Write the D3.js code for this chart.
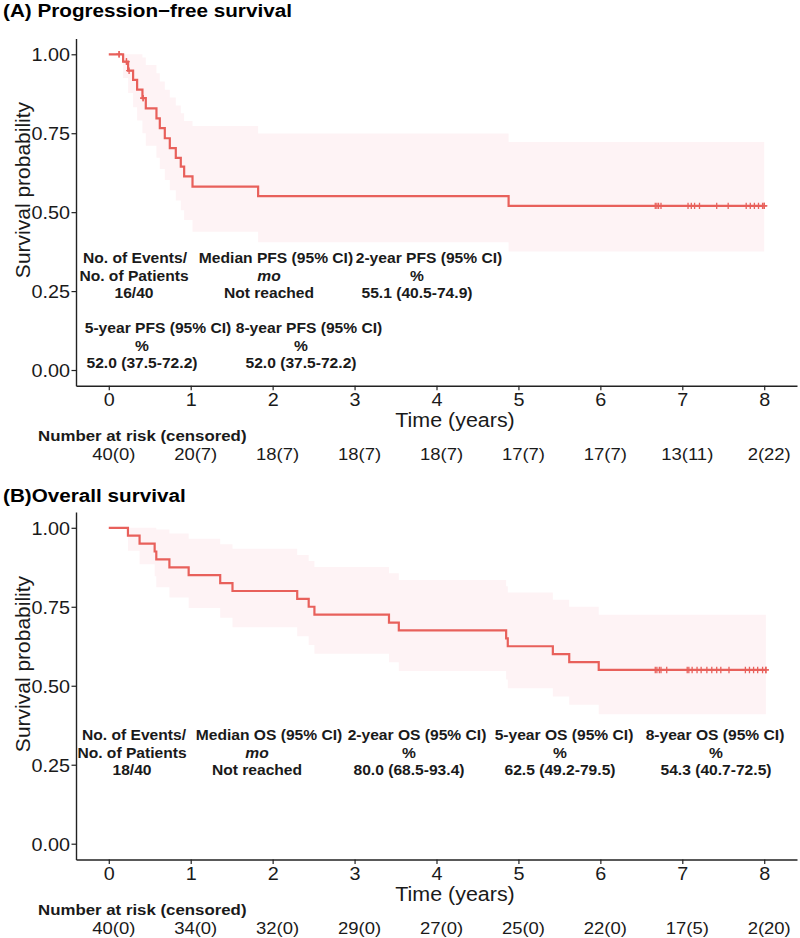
<!DOCTYPE html>
<html>
<head>
<meta charset="utf-8">
<script src="https://cdn.jsdelivr.net/npm/d3@7"></script>
<style>
  body { margin: 0; background: #fff; }
  svg { display: block; }
</style>
</head>
<body>
<svg id="chart" width="800" height="938"></svg>
<script>
// ---- data ----
const yearTicks = [0, 1, 2, 3, 4, 5, 6, 7, 8];
const survTicks = [0, 0.25, 0.5, 0.75, 1];

// progression-free survival: step times, estimate, 95% band
const pfsTime  = [0, 0.175, 0.236, 0.297, 0.346, 0.411, 0.452, 0.582, 0.623, 0.684, 0.745, 0.818, 0.879, 0.920, 1.022, 1.823, 4.880, 8.00];
const pfsSurv  = [1, 0.977, 0.948, 0.919, 0.888, 0.861, 0.829, 0.797, 0.766, 0.734, 0.703, 0.672, 0.644, 0.613, 0.581, 0.551, 0.520, 0.520];
const pfsLower = [1, 0.925, 0.877, 0.832, 0.790, 0.750, 0.710, 0.672, 0.637, 0.602, 0.569, 0.537, 0.506, 0.475, 0.438, 0.405, 0.375, 0.375];
const pfsUpper = [1, 1, 1, 1, 1, 0.990, 0.966, 0.940, 0.914, 0.888, 0.863, 0.838, 0.813, 0.789, 0.773, 0.749, 0.722, 0.722];
const pfsCensor = [0.126, 0.126, 0.216, 0.216, 0.248, 0.419, 0.419, 6.67, 6.69, 6.71, 6.74,
  7.07, 7.11, 7.15, 7.21, 7.42, 7.56, 7.78, 7.83, 7.88, 7.93, 7.98, 8.00, 8.00];
const pfsAtRisk   = [40, 20, 18, 18, 18, 17, 17, 13, 2];
const pfsCensored = [0, 7, 7, 7, 7, 7, 7, 11, 22];
const pfsNotes = [
  ["No. of Events/", "No. of Patients", "16/40"],
  ["Median PFS (95% CI)", "mo", "Not reached"],
  ["2-year PFS (95% CI)", "%", "55.1 (40.5-74.9)"],
  ["5-year PFS (95% CI)", "%", "52.0 (37.5-72.2)"],
  ["8-year PFS (95% CI)", "%", "52.0 (37.5-72.2)"]
];

// overall survival
const osTime  = [0, 0.234, 0.376, 0.56, 0.58, 0.74, 0.975, 1.36, 1.51, 2.30, 2.44, 2.51, 3.42, 3.54, 4.85, 4.87, 5.42, 5.62, 5.98, 8.02];
const osSurv  = [1, 0.975, 0.95, 0.925, 0.90, 0.875, 0.85, 0.825, 0.80, 0.775, 0.75, 0.725, 0.70, 0.675, 0.65, 0.625, 0.60, 0.575, 0.55, 0.55];
const osLower = [1, 0.927, 0.885, 0.847, 0.812, 0.779, 0.746, 0.715, 0.685, 0.657, 0.629, 0.601, 0.574, 0.547, 0.520, 0.492, 0.466, 0.440, 0.410, 0.410];
const osUpper = [1, 1, 1, 1, 0.995, 0.982, 0.965, 0.948, 0.934, 0.914, 0.895, 0.876, 0.856, 0.835, 0.815, 0.795, 0.772, 0.750, 0.725, 0.725];
const osCensor = [6.67, 6.69, 6.72, 6.74, 6.81, 7.06, 7.08, 7.12, 7.18, 7.23, 7.30, 7.36, 7.42,
  7.47, 7.57, 7.77, 7.82, 7.87, 7.92, 7.98, 8.02, 8.02];
const osAtRisk   = [40, 34, 32, 29, 27, 25, 22, 17, 2];
const osCensored = [0, 0, 0, 0, 0, 0, 0, 5, 20];
const osNotes = [
  ["No. of Events/", "No. of Patients", "18/40"],
  ["Median OS (95% CI)", "mo", "Not reached"],
  ["2-year OS (95% CI)", "%", "80.0 (68.5-93.4)"],
  ["5-year OS (95% CI)", "%", "62.5 (49.2-79.5)"],
  ["8-year OS (95% CI)", "%", "54.3 (40.7-72.5)"]
];

// ---- layout ----
const svg = d3.select("#chart");
const FONT = "'Liberation Sans', Arial, Helvetica, sans-serif";
const SX = 1.1; // the source figure is a bit stretched sideways
const lineColor = "#e8605b";
const bandColor = "#fef3f5";
const inkColor = "#1a1a1a";

const x = d3.scaleLinear().domain([-0.4, 8.4]).range([76, 797]);

function label(g, px, py, str, o = {}) {
  return g.append("text")
    .attr("transform", `translate(${px},${py}) scale(${o.sx ?? SX},1)`)
    .attr("text-anchor", o.anchor ?? "middle")
    .attr("font-family", FONT)
    .attr("font-size", o.size ?? 14)
    .attr("font-weight", o.weight ?? "normal")
    .attr("font-style", o.style ?? "normal")
    .attr("fill", o.fill ?? inkColor)
    .text(str);
}

const panels = [
  {
    title: "(A) Progression\u2212free survival", titleY: 17,
    yRange: [385.8, 38.5], yTitleY: 190,
    time: pfsTime, surv: pfsSurv, lower: pfsLower, upper: pfsUpper, censor: pfsCensor,
    atRisk: pfsAtRisk, censored: pfsCensored, notes: pfsNotes,
    // [header x, body x, row baseline]
    notePos: [[135, 134, 263], [276, 269, 263], [429, 417, 263], [158, 142, 333], [309, 301, 333]]
  },
  {
    title: "(B)Overall survival", titleY: 502,
    yRange: [859.5, 512], yTitleY: 664,
    time: osTime, surv: osSurv, lower: osLower, upper: osUpper, censor: osCensor,
    atRisk: osAtRisk, censored: osCensored, notes: osNotes,
    notePos: [[134, 132, 740], [269, 257, 740], [417, 409, 740], [564, 560, 740], [715, 716, 740]]
  }
];

panels.forEach(p => {
  const y = d3.scaleLinear().domain([-0.05, 1.05]).range(p.yRange);
  const g = svg.append("g");
  const steps = p.time.map((t, i) => ({ t, s: p.surv[i], lo: p.lower[i], hi: p.upper[i] }));

  // title
  label(g, 3, p.titleY, p.title, { anchor: "start", size: 18.8, weight: "bold", fill: "#000" });

  // confidence band
  g.append("path")
    .datum(steps)
    .attr("fill", bandColor)
    .attr("d", d3.area()
      .x(d => x(d.t))
      .y0(d => y(d.lo))
      .y1(d => y(d.hi))
      .curve(d3.curveStepAfter));

  // survival curve
  g.append("path")
    .datum(steps)
    .attr("fill", "none")
    .attr("stroke", lineColor)
    .attr("stroke-width", 2.2)
    .attr("d", d3.line()
      .x(d => x(d.t))
      .y(d => y(d.s))
      .curve(d3.curveStepAfter));

  // censor marks
  g.append("g")
    .selectAll("path")
    .data(p.censor)
    .join("path")
    .attr("transform", t => {
      const i = Math.max(0, d3.bisectRight(p.time, t) - 1);
      return `translate(${x(t)},${y(p.surv[i])})`;
    })
    .attr("d", "M-3,0H3M0,-3.2V3.2")
    .attr("stroke", lineColor)
    .attr("stroke-width", 1.3);

  // axes
  const yAxis = g.append("g")
    .attr("transform", `translate(${x.range()[0]},0)`)
    .call(d3.axisLeft(y).tickValues(survTicks).tickFormat(d3.format(".2f")).tickSize(4.5).tickSizeOuter(0));
  yAxis.selectAll("text")
    .attr("x", null)
    .attr("dy", "0.36em")
    .attr("transform", `translate(-6,0) scale(${SX},1)`)
    .attr("font-family", FONT)
    .attr("font-size", 18)
    .attr("fill", inkColor);

  const xAxis = g.append("g")
    .attr("transform", `translate(0,${p.yRange[0]})`)
    .call(d3.axisBottom(x).tickValues(yearTicks).tickSize(4.5).tickSizeOuter(0));
  xAxis.selectAll("text")
    .attr("y", null)
    .attr("dy", null)
    .attr("transform", `translate(0,20.5) scale(${SX},1)`)
    .attr("font-family", FONT)
    .attr("font-size", 18)
    .attr("fill", inkColor);

  [yAxis, xAxis].forEach(a => {
    a.select(".domain").attr("stroke", "#222").attr("stroke-width", 1.4);
    a.selectAll(".tick line").attr("stroke", "#222").attr("stroke-width", 1.2);
  });

  // axis titles
  g.append("text")
    .attr("transform", `translate(30,${p.yTitleY}) rotate(-90)`)
    .attr("text-anchor", "middle")
    .attr("font-family", FONT)
    .attr("font-size", 21)
    .attr("fill", inkColor)
    .text("Survival probability");
  label(g, 455, p.yRange[0] + 41.5, "Time (years)", { size: 19.5 });

  // summary notes inside the panel
  p.notes.forEach((lines, k) => {
    const [hx, bx, base] = p.notePos[k];
    lines.forEach((str, j) => {
      label(g, j === 0 ? hx : bx, base + j * 17.7, str, {
        size: 14.2, weight: "bold", style: str === "mo" ? "italic" : "normal"
      });
    });
  });

  // number at risk table
  label(g, 38, p.yRange[0] + 55.5, "Number at risk (censored)", { anchor: "start", size: 15.3, weight: "bold" });
  g.append("g")
    .selectAll("text")
    .data(yearTicks)
    .join("text")
    .attr("transform", t => `translate(${x(t) + 5},${p.yRange[0] + 74.5}) scale(${SX},1)`)
    .attr("text-anchor", "middle")
    .attr("font-family", FONT)
    .attr("font-size", 16.8)
    .attr("fill", inkColor)
    .text((t, i) => `${p.atRisk[i]}(${p.censored[i]})`);
});
</script>
</body>
</html>
